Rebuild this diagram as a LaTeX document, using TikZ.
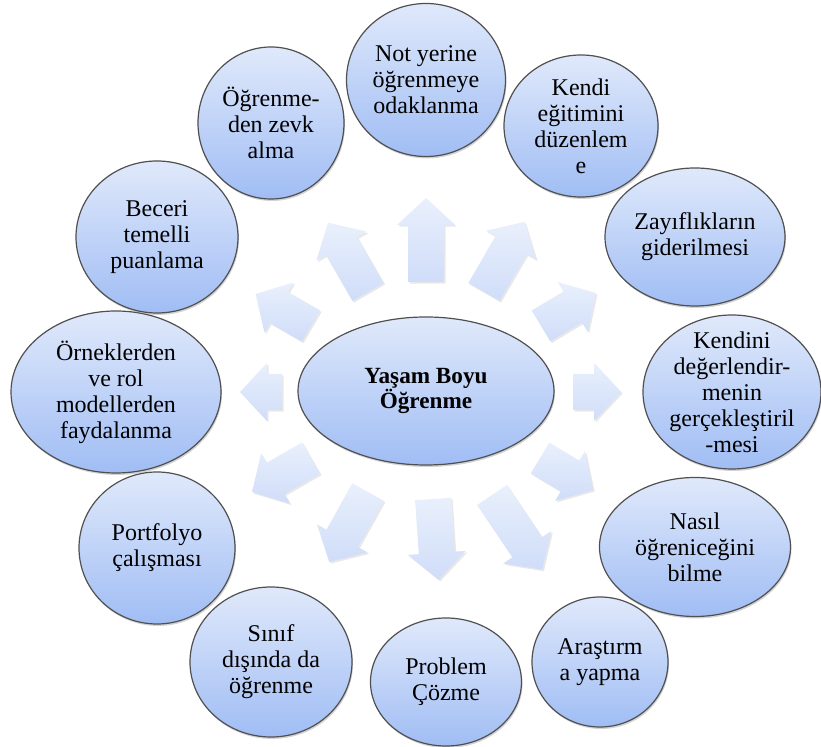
\documentclass[tikz,border=0pt]{standalone}
\usepackage{fontspec}
\setmainfont{Liberation Serif}
\usetikzlibrary{shapes.geometric,shadows}

\definecolor{bubtop}{HTML}{E0E9FB}
\definecolor{bubbot}{HTML}{A0BDF4}
\definecolor{arrtop}{HTML}{E9F0FC}
\definecolor{arrbot}{HTML}{D0DDF9}
\definecolor{rim}{HTML}{505050}

\tikzset{
  bubble/.style={ellipse, draw=rim, line width=.6pt, top color=bubtop, bottom color=bubbot,
    inner sep=0pt, drop shadow={opacity=.35, shadow xshift=.5pt, shadow yshift=-1pt}},
  txt/.style={align=center, inner sep=0pt, font=\fontsize{12}{13}\selectfont},
  blockarrow/.style={top color=arrtop, bottom color=arrbot,
    drop shadow={opacity=.18, shadow xshift=.8pt, shadow yshift=-.8pt}}
}

\begin{document}
\begin{tikzpicture}[x=.5pt,y=-.5pt]
   \useasboundingbox (0,0) rectangle (821,747);

   \foreach \x/\y/\a/\l in {426/282/90/84, 484/292/60/81, 541/326/31/64, 573/392/0/48,
       540/458/-31/62, 492/495/-56/90, 433/499/-86/81, 368/492/-119/80,
       311/458/-150/68, 282/392/180/42, 311/326/150/64, 368/292/120/80}
     \path[blockarrow, shift={(\x,\y)}, rotate=\a] (0,-18) -- (\l-27,-18) -- (\l-27,-29)
       -- (\l,0) -- (\l-27,29) -- (\l-27,18) -- (0,18) -- cycle;

   \node[bubble, minimum width=128pt, minimum height=74pt,
     label={[txt, font=\bfseries\fontsize{11.6}{12.5}\selectfont]center:{Yaşam Boyu\\Öğrenme}}] (c) at (426,391) {};

   \node[bubble, minimum width=79.5pt, minimum height=76.5pt,
     label={[txt]center:{Not yerine\\öğrenmeye\\odaklanma}}] (o1) at (426,80) {};
   \node[bubble, minimum width=77pt, minimum height=71pt,
     label={[txt]center:{Kendi\\eğitimini\\düzenlem\\e}}] (o2) at (581,126) {};
   \node[bubble, minimum width=90pt, minimum height=69pt,
     label={[txt]center:{Zayıflıkların\\giderilmesi}}] (o3) at (695,237) {};
   \node[bubble, minimum width=89pt, minimum height=77pt,
     label={[txt]center:{Kendini\\değerlendir-\\menin\\gerçekleştiril\\-mesi}}] (o4) at (732,392) {};
   \node[bubble, minimum width=95.5pt, minimum height=69.5pt,
     label={[txt]center:{Nasıl\\öğreniceğini\\bilme}}] (o5) at (695,547) {};
   \node[bubble, minimum width=68pt, minimum height=65pt,
     label={[txt]center:{Araştırm\\a yapma}}] (o6) at (600,662) {};
   \node[bubble, minimum width=75.5pt, minimum height=64pt,
     label={[txt]center:{Problem\\Çözme}}] (o7) at (446,682) {};
   \node[bubble, minimum width=81pt, minimum height=75pt,
     label={[txt]center:{Sınıf\\dışında da\\öğrenme}}] (o8) at (271,662) {};
   \node[bubble, minimum width=78pt, minimum height=76pt,
     label={[txt]center:{Portfolyo\\çalışması}}] (o9) at (157,548) {};
   \node[bubble, minimum width=105pt, minimum height=81pt,
     label={[txt]center:{Örneklerden\\ve rol\\modellerden\\faydalanma}}] (o10) at (116,392) {};
   \node[bubble, minimum width=81pt, minimum height=76pt,
     label={[txt]center:{Beceri\\temelli\\puanlama}}] (o11) at (157,237) {};
   \node[bubble, minimum width=73pt, minimum height=76pt,
     label={[txt]center:{Öğrenme-\\den zevk\\alma}}] (o12) at (271,123) {};

\end{tikzpicture}
\end{document}
